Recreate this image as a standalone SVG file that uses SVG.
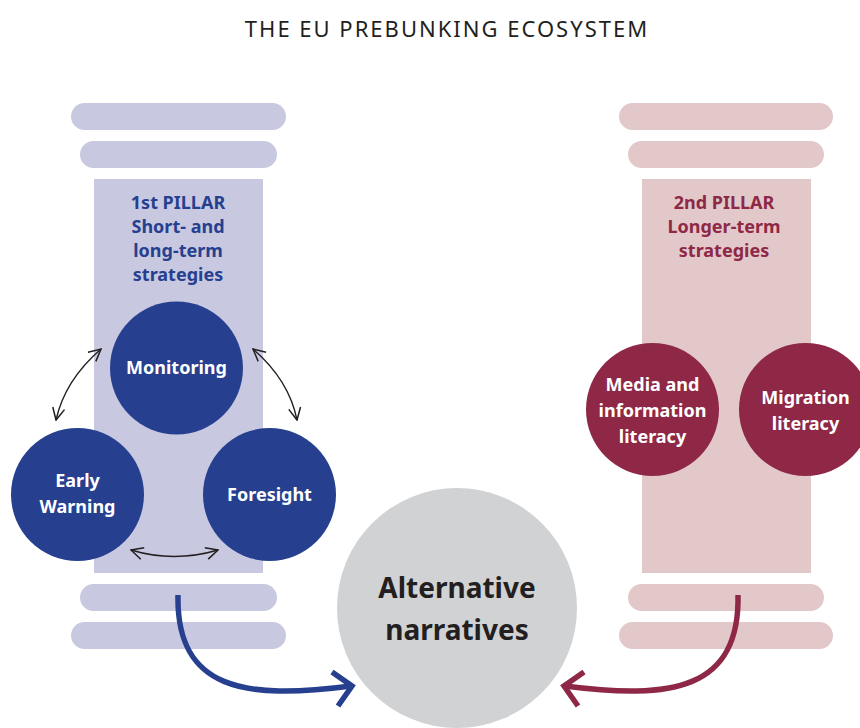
<svg xmlns="http://www.w3.org/2000/svg" width="860" height="728" viewBox="0 0 860 728">
<defs>
<style>
.t{font-family:"Noto Sans","Open Sans","Liberation Sans",sans-serif;font-weight:bold;text-anchor:middle;}
.w{fill:#ffffff;font-size:18px;}
.lb{fill:#c8c9e1;}
.lr{fill:#e3c8c9;}
.db{fill:#26408f;}
.dr{fill:#8e2846;}
.thin{fill:none;stroke:#231f20;stroke-width:1.4;}
</style>
<marker id="ah" viewBox="0 0 14 14" refX="13" refY="7" markerWidth="14" markerHeight="14" markerUnits="userSpaceOnUse" orient="auto-start-reverse">
<path d="M1,1 L13,7 L1,13" fill="none" stroke="#231f20" stroke-width="1.5"/>
</marker>
</defs>
<rect width="860" height="728" fill="#ffffff"/>
<text x="447" y="37" style="font-family:'Noto Sans','Open Sans',sans-serif;font-size:22px;fill:#231f20;text-anchor:middle;letter-spacing:2px;">THE EU PREBUNKING ECOSYSTEM</text>

<g id="pillar1">
<rect class="lb" x="71" y="103" width="215" height="27" rx="13.5"/>
<rect class="lb" x="80" y="141" width="197" height="27" rx="13.5"/>
<rect class="lb" x="94" y="179" width="169" height="394"/>
<rect class="lb" x="80" y="584" width="197" height="27" rx="13.5"/>
<rect class="lb" x="71" y="622" width="215" height="27" rx="13.5"/>
<text class="t" style="fill:#26408f;font-size:18px;"><tspan x="178" y="209">1st PILLAR</tspan><tspan x="178" y="233">Short- and</tspan><tspan x="178" y="257">long-term</tspan><tspan x="178" y="281">strategies</tspan></text>
</g>

<g id="pillar2">
<rect class="lr" x="619" y="103" width="214" height="27" rx="13.5"/>
<rect class="lr" x="628" y="141" width="196" height="27" rx="13.5"/>
<rect class="lr" x="642" y="179" width="169" height="394"/>
<rect class="lr" x="628" y="584" width="196" height="27" rx="13.5"/>
<rect class="lr" x="619" y="622" width="214" height="27" rx="13.5"/>
<text class="t" style="fill:#8e2846;font-size:18px;"><tspan x="724" y="209">2nd PILLAR</tspan><tspan x="724" y="233">Longer-term</tspan><tspan x="724" y="257">strategies</tspan></text>
</g>

<g id="monitoring">
<circle class="db" cx="176.5" cy="368" r="66.5"/>
<text class="t w" x="176.5" y="374">Monitoring</text>
</g>
<g id="early-warning">
<circle class="db" cx="77.5" cy="494.5" r="66.5"/>
<text class="t w"><tspan x="77.5" y="487">Early</tspan><tspan x="77.5" y="513">Warning</tspan></text>
</g>
<g id="foresight">
<circle class="db" cx="269.5" cy="494.5" r="66.5"/>
<text class="t w" x="269.5" y="501">Foresight</text>
</g>
<g id="media-literacy">
<circle class="dr" cx="652.5" cy="409.5" r="66.5"/>
<text class="t w"><tspan x="652.5" y="391">Media and</tspan><tspan x="652.5" y="417">information</tspan><tspan x="652.5" y="443">literacy</tspan></text>
</g>
<g id="migration-literacy">
<circle class="dr" cx="805.5" cy="409.5" r="66.5"/>
<text class="t w"><tspan x="805.5" y="404">Migration</tspan><tspan x="805.5" y="430">literacy</tspan></text>
</g>
<g id="alternative-narratives">
<circle cx="457" cy="608" r="120" fill="#d1d2d4"/>
<text class="t" style="fill:#231f20;font-size:28px;"><tspan x="457" y="598">Alternative</tspan><tspan x="457" y="640">narratives</tspan></text>
</g>

<g id="connectors">
<path class="thin" d="M101,349 Q65,380 56,420" marker-start="url(#ah)" marker-end="url(#ah)"/>
<path class="thin" d="M253,349 Q289,380 297,420" marker-start="url(#ah)" marker-end="url(#ah)"/>
<path class="thin" d="M131,550 Q174,563 218,550" marker-start="url(#ah)" marker-end="url(#ah)"/>
<path d="M178,595 C176,690 245,700 351,686" fill="none" stroke="#26408f" stroke-width="5.5"/>
<path d="M332,672 L352,686 L338,706" fill="none" stroke="#26408f" stroke-width="5.5"/>
<path d="M738,595 C740,690 671,700 565,686" fill="none" stroke="#8e2846" stroke-width="5.5"/>
<path d="M584,672 L564,686 L578,706" fill="none" stroke="#8e2846" stroke-width="5.5"/>
</g>
</svg>
